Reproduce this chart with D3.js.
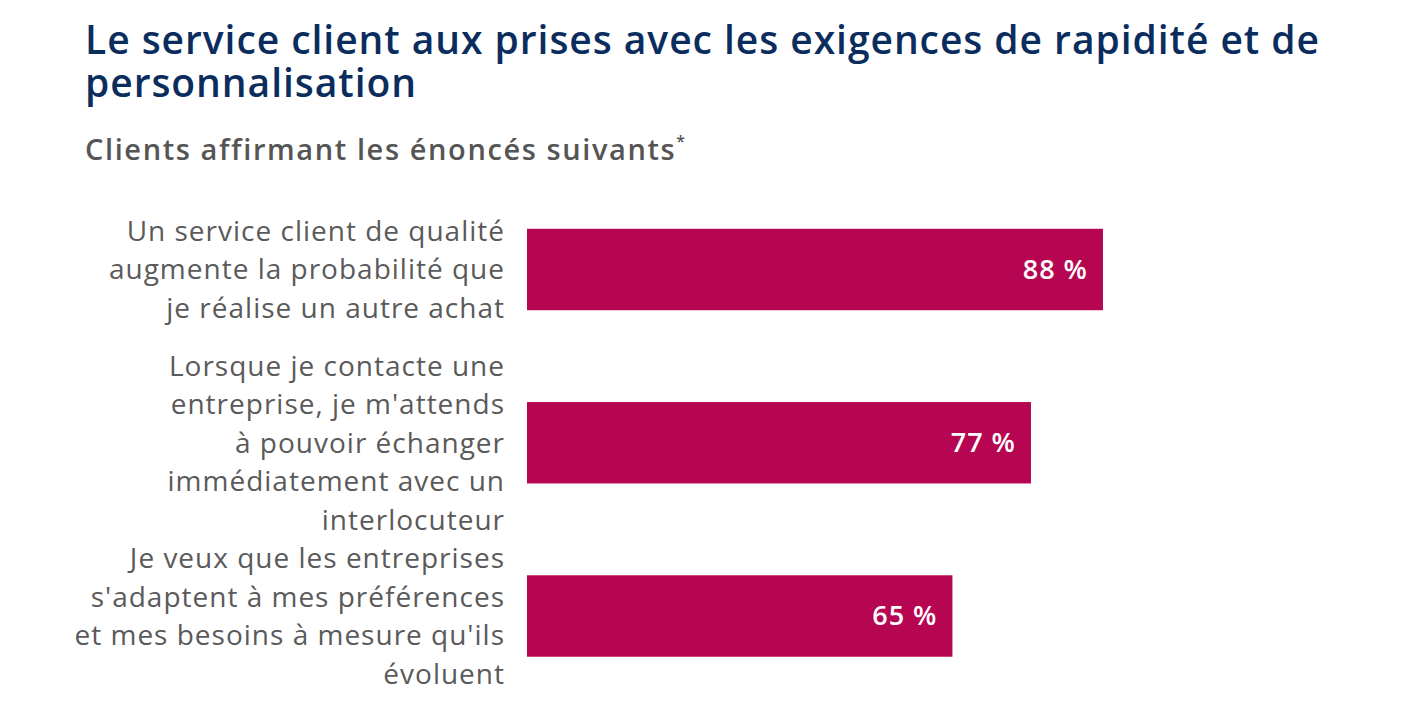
<!DOCTYPE html>
<meta charset="utf-8">
<style>
  body { margin: 0; background: #fff; }
  svg { font-family: "Open Sans", sans-serif; }
  .title { fill: #0b2d5e; font-weight: 600; font-size: 39px; letter-spacing: 0.95px; }
  .subtitle { fill: #555; font-weight: 600; font-size: 29px; letter-spacing: 1.6px; }
  .cat { fill: #5a5a5a; font-size: 28px; letter-spacing: 1px; }
  .val { fill: #fff; font-weight: 600; font-size: 27px; letter-spacing: 1px; }
  .bar { fill: #b70651; }
</style>
<body></body>
<script src="https://cdn.jsdelivr.net/npm/d3@7"></script>
<script>
  const titleLines = ['Le service client aux prises avec les exigences de rapidité et de', 'personnalisation'];
  const subtitle = 'Clients affirmant les énoncés suivants';
  const categories = [
    ['Un service client de qualité', 'augmente la probabilité que', 'je réalise un autre achat'],
    ['Lorsque je contacte une', 'entreprise, je m\'attends', 'à pouvoir échanger', 'immédiatement avec un', 'interlocuteur'],
    ['Je veux que les entreprises', 's\'adaptent à mes préférences', 'et mes besoins à mesure qu\'ils', 'évoluent']
  ];
  const values = [88, 77, 65];

  const w = 1410, h = 723;
  const svg = d3.select('body').append('svg').attr('width', w).attr('height', h);

  // titles
  svg.append('text').attr('class', 'title')
    .selectAll('tspan').data(titleLines).join('tspan')
    .attr('x', 85).attr('y', (d, i) => 54 + i * 43).text(d => d);
  const st = svg.append('text').attr('class', 'subtitle').attr('x', 85).attr('y', 160).text(subtitle);
  st.append('tspan').attr('font-size', 16).attr('dy', -13).text('*');

  const x = d3.scaleLinear().domain([0, 100]).range([527, 1181.5]);
  const y = d3.scaleBand().domain(d3.range(values.length)).range([182, 703.5]).paddingInner(0.53).paddingOuter(0.27);

  const g = svg.append('g');
  g.selectAll('rect').data(values).join('rect')
    .attr('class', 'bar')
    .attr('x', x(0)).attr('y', (d, i) => y(i))
    .attr('width', d => x(d) - x(0)).attr('height', y.bandwidth());

  g.selectAll('.val').data(values).join('text')
    .attr('class', 'val')
    .attr('x', d => x(d) - 15).attr('y', (d, i) => y(i) + y.bandwidth() / 2)
    .attr('dy', '0.35em').attr('text-anchor', 'end')
    .text(d => `${d} %`);

  const lh = 38.5;
  g.selectAll('.cat').data(categories).join('text')
    .attr('class', 'cat').attr('text-anchor', 'end')
    .each(function(lines, i) {
      const cy = y(i) + y.bandwidth() / 2 - (lines.length - 1) * lh / 2;
      d3.select(this).selectAll('tspan').data(lines).join('tspan')
        .attr('x', 505).attr('y', (d, j) => cy + j * lh).attr('dy', '0.35em').text(d => d);
    });
</script>
